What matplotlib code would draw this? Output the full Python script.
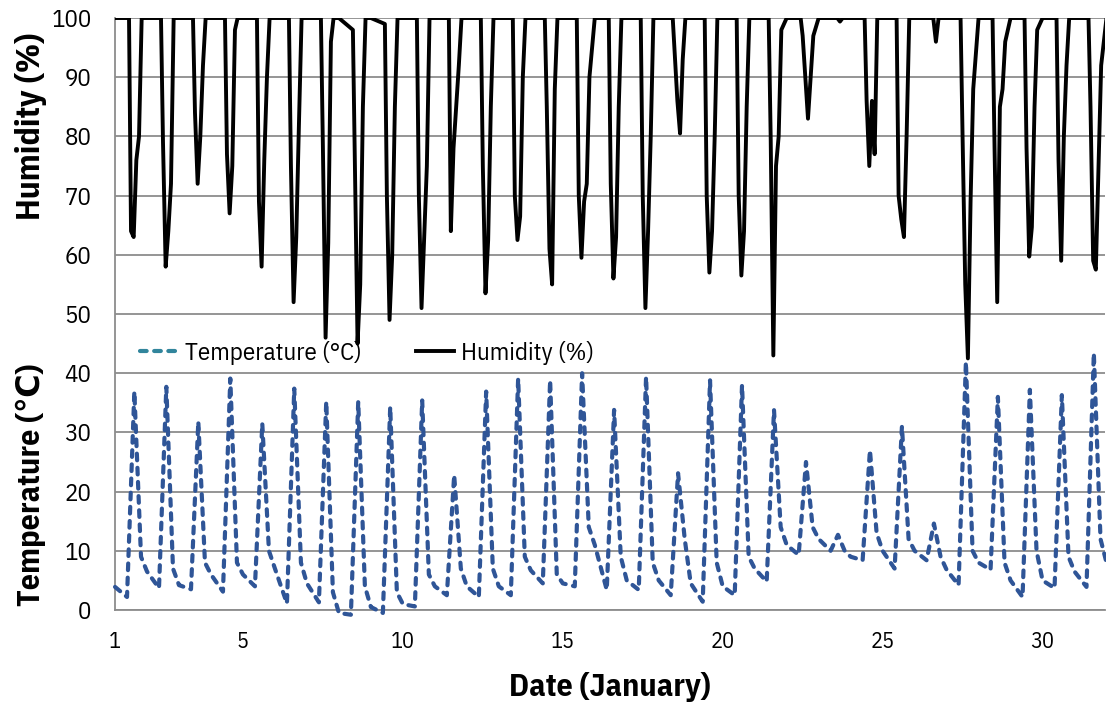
import matplotlib
matplotlib.use('Agg')
import matplotlib.pyplot as plt

# January, one row per day
DAYS = list(range(1, 32))

# humidity (%) at these hours of each day
HUM_HOURS = [0, 10.5, 12, 14, 16, 18, 20]
HUMIDITY = [
    [100, 100, 64, 63, 76, 80, 100],
    [100, 100, 79, 58, 64, 72, 100],
    [100, 100, 84, 72, 80, 92, 100],
    [100, 100, 77, 67, 75, 98, 100],
    [100, 100, 69, 58, 76, 90, 100],
    [100, 100, 75, 52, 63, 82, 100],
    [100, 100, 78, 46, 62, 96, 100],
    [100, 98, 75, 45, 55, 85, 100],
    [100, 99, 70, 49, 60, 85, 100],
    [100, 100, 70, 51, 63, 75, 100],
    [100, 100, 64, 78, 85, 92, 100],
    [100, 100, 75, 53.5, 62.5, 85, 100],
    [100, 100, 70, 62.5, 66.5, 90, 100],
    [100, 100, 85, 61, 55, 88, 100],
    [100, 100, 70, 59.5, 69, 72, 90],
    [100, 100, 72, 56, 63, 85, 100],
    [100, 100, 70, 51, 64, 80, 100],
    [100, 100, 94, 86, 80.5, 93, 100],
    [100, 100, 70, 57, 64, 80, 100],
    [100, 100, 70, 56.5, 64, 85, 100],
    [100, 100, 80, 43, 75, 80, 98],
    [100, 100, 97, 90, 83, 90, 97],
    [100, 100, 100, 100, 99.4, 100, 100],
    [100, 100, 86, 75, 86, 77, 100],
    [100, 100, 70, 66, 63, 80, 100],
    [100, 100, 100, 100, 96, 100, 100],
    [100, 100, 80, 55, 42.5, 69, 88],
    [100, 100, 78, 52, 85, 88, 96],
    [100, 100, 78, 59.7, 64.7, 85, 98],
    [100, 100, 76, 59, 80, 92, 100],
    [100, 100, 85, 59, 57.5, 75, 92],
]

# temperature (deg C) at these hours of each day
TEMP_HOURS = [0, 9, 14.5, 19.5]
TEMPERATURE = [
    [3.9, 2.2, 36.9, 9.0],
    [6.5, 3.7, 37.7, 7.0],
    [4.2, 3.5, 31.8, 8.0],
    [6.0, 3.1, 39.1, 8.0],
    [6.0, 4.0, 31.5, 10.0],
    [7.0, 1.1, 37.4, 8.0],
    [4.5, 1.3, 35.2, 3.0],
    [-0.5, -0.8, 35.2, 4.0],
    [0.5, -0.5, 34.3, 3.0],
    [1.0, 0.6, 35.4, 6.0],
    [4.0, 2.5, 22.8, 7.0],
    [4.0, 2.2, 36.9, 7.0],
    [4.0, 2.5, 39.1, 9.0],
    [6.7, 4.5, 38.8, 6.0],
    [4.5, 4.0, 40.0, 14.0],
    [11.0, 3.4, 33.8, 9.0],
    [5.0, 3.4, 39.4, 8.0],
    [5.0, 2.5, 23.1, 12.0],
    [4.5, 1.4, 38.8, 8.0],
    [4.0, 2.5, 38.0, 9.0],
    [7.0, 4.8, 33.8, 14.0],
    [11.0, 9.3, 25.0, 14.0],
    [12.0, 10.0, 12.7, 10.0],
    [9.0, 8.4, 27.0, 13.0],
    [10.0, 7.0, 31.0, 12.0],
    [10.0, 8.4, 14.6, 9.0],
    [6.8, 4.2, 41.9, 10.0],
    [8.0, 6.8, 36.0, 8.0],
    [5.0, 2.2, 37.2, 10.0],
    [5.0, 3.7, 36.3, 9.0],
    [6.5, 3.9, 43.4, 12.0],
]

# Feb 1, 00:00
END_HUMIDITY = 100
END_TEMPERATURE = 8.0

X_TICKS = [1, 5, 10, 15, 20, 25, 30]
Y_TICKS = list(range(0, 101, 10))


def to_series(hours, rows, end_value):
    'Flatten per-day rows into a time series (x in days).'
    xs = [day + hour / 24 for day, row in zip(DAYS, rows) for hour in hours[:len(row)]]
    ys = [value for row in rows for value in row]
    return xs + [DAYS[-1] + 1], ys + [end_value]


plt.rcParams['font.family'] = ['IBM Plex Sans Condensed', 'DejaVu Sans']

fig = plt.figure(figsize=(11.06, 7.07), dpi=100)
ax = fig.add_axes([0.104, 0.1372, 0.895, 0.8373])

hum_x, hum_y = to_series(HUM_HOURS, HUMIDITY, END_HUMIDITY)
temp_x, temp_y = to_series(TEMP_HOURS, TEMPERATURE, END_TEMPERATURE)

temp_style = dict(lw=3.0, ls=(0, (1.6, 1.8)), dash_capstyle='round')
ax.plot(temp_x, temp_y, color='#2F5597', clip_on=False, zorder=3, **temp_style)
ax.plot(hum_x, hum_y, color='black', lw=2.8, solid_joinstyle='round', zorder=4)

ax.set_xlim(1, 31.95)
ax.set_ylim(0, 100)
ax.set_xticks(X_TICKS)
ax.set_yticks(Y_TICKS)
ax.tick_params(length=0)
ax.tick_params(axis='y', pad=17, labelsize=18)
ax.tick_params(axis='x', pad=15, labelsize=16)
ax.grid(axis='y', color='#8c8c8c', lw=1.3)
ax.set_axisbelow(True)
for side in ['top', 'right']:
    ax.spines[side].set_visible(False)
for side in ['left', 'bottom']:
    ax.spines[side].set_color('#8c8c8c')
    ax.spines[side].set_linewidth(1.3)

# legend: handle colours as in the original
legend_handles = [
    plt.Line2D([], [], color='#31859C', **temp_style),
    plt.Line2D([], [], color='black', lw=2.8),
]
ax.legend(legend_handles, ['Temperature (°C)', 'Humidity (%)'],
          loc='center left', bbox_to_anchor=(0.025, 0.434), ncol=2,
          frameon=False, fontsize=18, handlelength=1.5, handletextpad=0.3,
          columnspacing=2.2, borderpad=0, borderaxespad=0)

ax.set_xlabel('Date (January)', fontsize=23, fontweight='bold', labelpad=14)
fig.text(0.028, 1 - 126 / 707, 'Humidity (%)', rotation=90, fontsize=24,
         fontweight='bold', ha='center', va='center')
fig.text(0.028, 1 - 485 / 707, 'Temperature (℃)', rotation=90, fontsize=23,
         fontweight='bold', ha='center', va='center')

fig.savefig('out.png', dpi=100)
